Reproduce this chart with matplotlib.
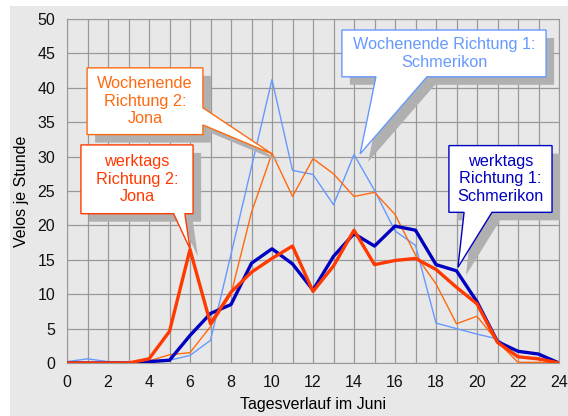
import matplotlib
matplotlib.use("Agg")
import matplotlib.pyplot as plt
from matplotlib.patches import Polygon, Rectangle
from matplotlib import transforms

plt.rcParams['font.family'] = ['Liberation Sans', 'DejaVu Sans']

# Stunden und Veloszahlen
hours = list(range(25))
we_r1 = [0.2, 0.6, 0.2, 0.1, 0.2, 0.4, 1.1, 3.3, 15.8, 28.5, 41.2, 28.0, 27.4, 23.0,
         30.3, 25.1, 19.2, 17.1, 5.8, 5.0, 4.2, 3.5, 0.9, 0.7, 0.0]
we_r2 = [0.0, 0.0, 0.0, 0.0, 0.3, 1.2, 1.5, 5.3, 10.0, 21.9, 30.5, 24.2, 29.7, 27.5,
         24.2, 24.8, 21.6, 15.7, 11.5, 5.7, 6.8, 3.1, 0.1, 0.1, 0.0]
wt_r1 = [0.0, 0.0, 0.0, 0.0, 0.2, 0.4, 4.0, 7.2, 8.5, 14.5, 16.6, 14.4, 10.6, 15.5,
         18.8, 17.0, 19.9, 19.3, 14.3, 13.4, 8.9, 3.1, 1.7, 1.3, 0.0]
wt_r2 = [0.0, 0.0, 0.0, 0.0, 0.6, 4.6, 16.5, 5.7, 10.3, 13.2, 15.2, 17.0, 10.4, 14.1,
         19.3, 14.3, 14.9, 15.2, 13.6, 11.0, 8.6, 3.0, 0.9, 0.6, 0.0]

bg = '#e8e8e8'
fig = plt.figure(figsize=(5.68, 4.16), dpi=100, facecolor='white')
fig.patches.append(Rectangle((10 / 568, 0), 1, (416 - 6) / 416, transform=fig.transFigure,
                             facecolor=bg, edgecolor='none', zorder=-5))
ax = fig.add_axes([67 / 568, 53 / 416, 492 / 568, 344 / 416])
ax.set_facecolor(bg)

ax.plot(hours, we_r1, color='#6699ff', lw=1.0, zorder=3)
ax.plot(hours, we_r2, color='#ff6a10', lw=1.0, zorder=3)
ax.plot(hours, wt_r1, color='#0000c0', lw=2.4, zorder=4)
ax.plot(hours, wt_r2, color='#ff3a00', lw=2.4, zorder=5)

ax.set_xlim(0, 24)
ax.set_ylim(0, 50)
ax.set_xticks(range(0, 25, 2))
ax.set_xticks(range(0, 25), minor=True)
ax.set_yticks(range(0, 51, 5))
ax.grid(True, which='both', color='#999999', lw=0.9, zorder=1)
ax.set_axisbelow(True)
ax.tick_params(which='both', length=0, labelsize=11.5, colors='#111111')
ax.tick_params(axis='x', pad=8.5)
ax.tick_params(axis='y', pad=8.5)
for s in ax.spines.values():
    s.set_color('#999999')
ax.set_xlabel('Tagesverlauf im Juni', fontsize=11.5, labelpad=5)
ax.set_ylabel('Velos je Stunde', fontsize=11.5, labelpad=6)

shadow_tr = transforms.offset_copy(ax.transData, fig=fig, x=8, y=-8, units='dots')


def callout(box, base, tip, side, text, color, edge):
    x0, x1, yb, yt = box
    b1, b2 = base
    if side == 'bottom':
        pts = [(x0, yt), (x1, yt), (x1, yb), (b2, yb), tip, (b1, yb), (x0, yb)]
    else:
        pts = [(x0, yt), (x1, yt), (x1, b1), tip, (x1, b2), (x1, yb), (x0, yb)]
    ax.add_patch(Polygon(pts, closed=True, facecolor='#b0b0b0', edgecolor='none',
                         transform=shadow_tr, zorder=6, clip_on=False))
    ax.add_patch(Polygon(pts, closed=True, facecolor='white', edgecolor=edge,
                         lw=1.0, zorder=7, clip_on=False))
    ax.text((x0 + x1) / 2, (yb + yt) / 2, text, color=color, fontsize=11.7,
            ha='center', va='center', linespacing=1.2, zorder=8)


callout((0.98, 6.63, 33.2, 42.9), (37.1, 34.6), (10.0, 30.4), 'right',
        'Wochenende\nRichtung 2:\nJona', '#ff6a10', '#ff6a10')
callout((0.68, 6.15, 21.7, 31.7), (5.2, 5.75), (6.0, 16.6), 'bottom',
        'werktags\nRichtung 2:\nJona', '#ff3a00', '#ff3a00')
callout((13.41, 23.37, 41.6, 48.4), (15.07, 17.56), (14.3, 30.4), 'bottom',
        'Wochenende Richtung 1:\nSchmerikon', '#6699ff', '#6699ff')
callout((18.63, 23.66, 21.9, 31.6), (19.37, 20.73), (19.07, 13.9), 'bottom',
        'werktags\nRichtung 1:\nSchmerikon', '#0000c0', '#0000c0')

fig.savefig('out.png', dpi=100, facecolor=fig.get_facecolor())
